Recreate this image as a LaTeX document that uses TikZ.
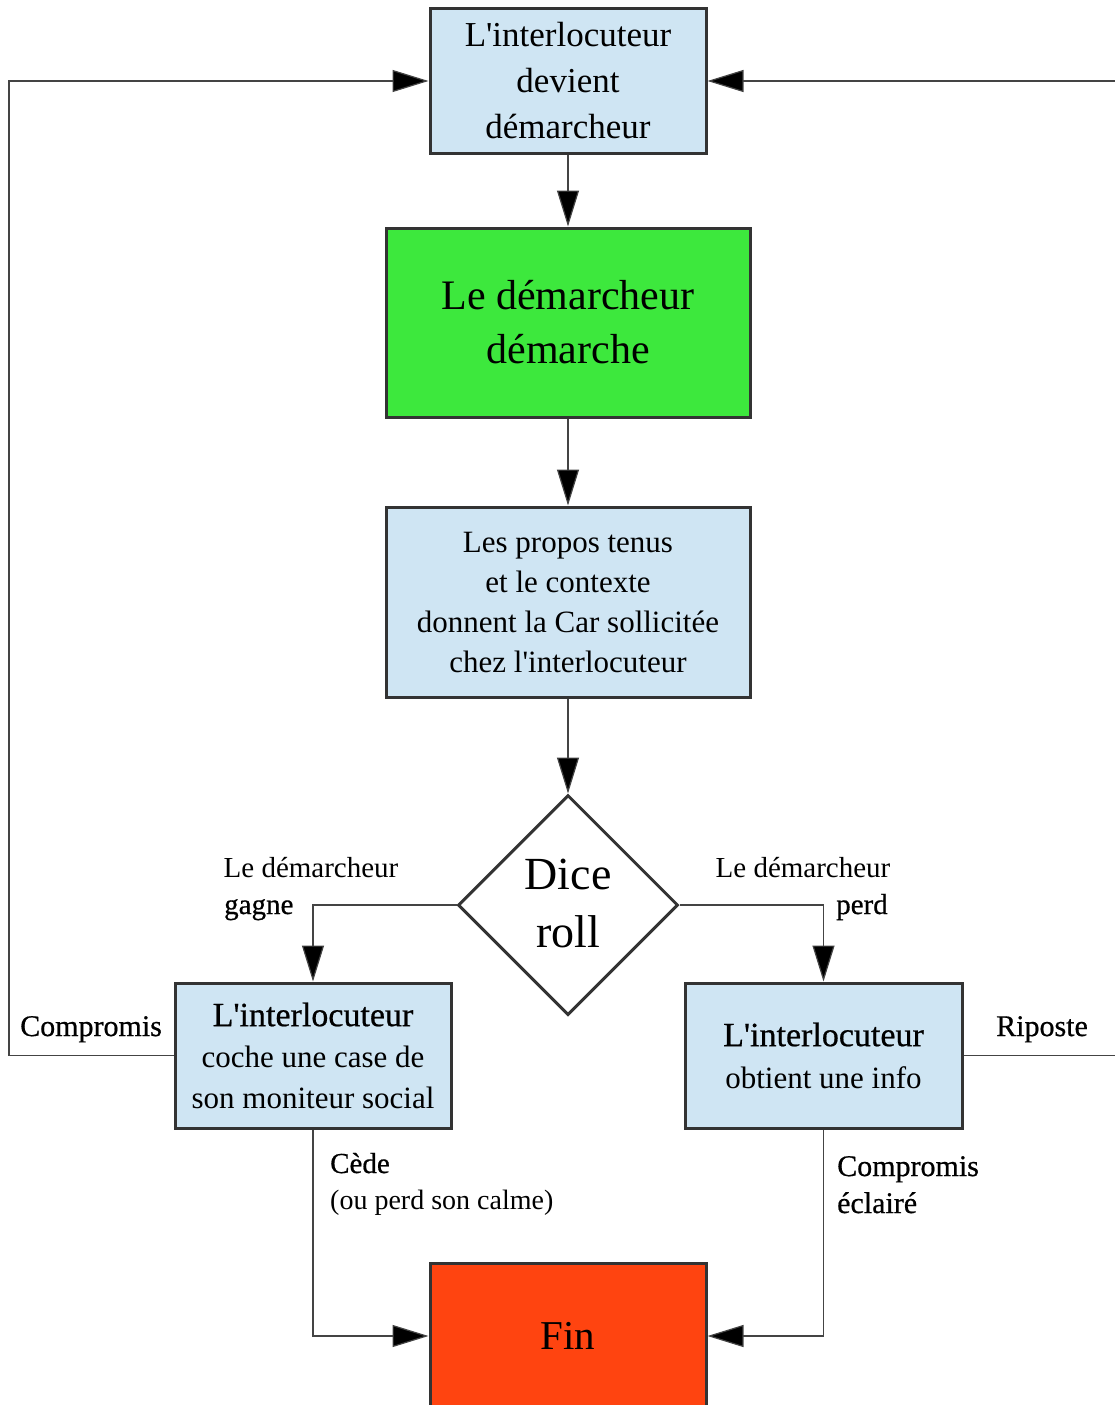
\documentclass[tikz,border=0pt]{standalone}
\usepackage{fontspec}
\setmainfont{Liberation Serif}[Ligatures=TeXOff]
\newfontface\heavier[FakeBold=0.6]{Liberation Serif}
\usetikzlibrary{arrows.meta,shapes.geometric}
\definecolor{boxblue}{HTML}{CFE5F3}
\definecolor{boxgreen}{HTML}{3DE83D}
\definecolor{boxred}{HTML}{FF4410}
\definecolor{boxborder}{HTML}{333333}
\definecolor{linegray}{HTML}{444444}
\newcommand{\fs}[2]{\fontsize{#1}{#2}\selectfont}
\tikzset{
  box/.style={draw=boxborder, line width=3pt, align=center, inner sep=0pt, text=black},
  conn/.style={draw=linegray, line width=1.2pt, -{Triangle[length=36pt, width=22pt, fill=black]}},
  lbl/.style={inner sep=0pt, font=\fs{29}{37}},
}
\begin{document}
\begin{tikzpicture}[x=1pt,y=-1pt]
\useasboundingbox (0,0) rectangle (1115,1405);
\clip (0,0) rectangle (1115,1405);
\fill[white] (0,0) rectangle (1115,1405);

\node[box, fill=boxblue, minimum width=276pt, minimum height=144pt, font=\fs{35}{46}] (top) at (568,81) {L'interlocuteur\\devient\\démarcheur};
\node[box, fill=boxgreen, minimum width=364pt, minimum height=189pt, font=\fs{42}{54}] (green) at (568,322.5) {Le démarcheur\\démarche};
\node[box, fill=boxblue, minimum width=364pt, minimum height=190pt, font=\fs{31}{40}] (props) at (568,602) {Les propos tenus\\et le contexte\\donnent la Car sollicitée\\chez l'interlocuteur};
\node[diamond, draw=boxborder, line width=3pt, fill=white, minimum width=220pt, minimum height=220pt, inner sep=0pt] (dice) at (568,905) {};
\node[inner sep=0pt, align=center, font=\fs{46}{58}] (dicetxt) at (568,903) {Dice\\roll};
\node[box, fill=boxblue, minimum width=276pt, minimum height=145pt, font=\fs{31}{41}] (left) at (313,1055.5) {{\heavier\fs{34}{41}L'interlocuteur}\\coche une case de\\son moniteur social};
\node[box, fill=boxblue, minimum width=277pt, minimum height=145pt, font=\fs{31}{42}] (right) at (823.5,1055.5) {{\heavier\fs{34}{42}L'interlocuteur}\\obtient une info};
\node[box, fill=boxred, minimum width=276pt, minimum height=146pt, font=\fs{41}{50}] (fin) at (568,1336) {Fin};

\coordinate (lc) at (9,81);
\coordinate (rc) at (1118,81);

\draw[conn] (top.south) -- (green.north);
\draw[conn] (green.south) -- (props.north);
\draw[conn] (props.south) -- (dice.north);
\draw[conn] (dice.west) -| (left.north);
\draw[conn] (dice.east) -| (right.north);
\draw[conn] (left.south) |- (fin.west);
\draw[conn] (right.south) |- (fin.east);
\draw[conn] (left.west) -| (lc) -- (top.west);
\draw[conn] (right.east) -| (rc) -- (top.east);

\node[lbl, anchor=base] (l1) at (311,877) {Le démarcheur};
\node[lbl, anchor=base west, font=\heavier\fs{29}{37}] (l2) at (224,914) {gagne};
\node[lbl, anchor=base] (r1) at (803,877) {Le démarcheur};
\node[lbl, anchor=base west, font=\heavier\fs{29}{37}] (r2) at (836,914) {perd};
\node[lbl, anchor=base west, font=\heavier\fs{30}{37}] (comp) at (20,1036) {Compromis};
\node[lbl, anchor=base west, font=\heavier\fs{30}{37}] (rip) at (996,1036) {Riposte};
\node[lbl, anchor=base west, font=\heavier\fs{29}{37}] (cede) at (330,1173) {Cède};
\node[lbl, anchor=base west, font=\fs{28}{37}] (calme) at (330,1209) {(ou perd son calme)};
\node[lbl, anchor=base west, font=\heavier\fs{30}{37}] (ce1) at (837,1176) {Compromis};
\node[lbl, anchor=base west, font=\heavier\fs{30}{37}] (ce2) at (837,1213) {éclairé};
\end{tikzpicture}
\end{document}
